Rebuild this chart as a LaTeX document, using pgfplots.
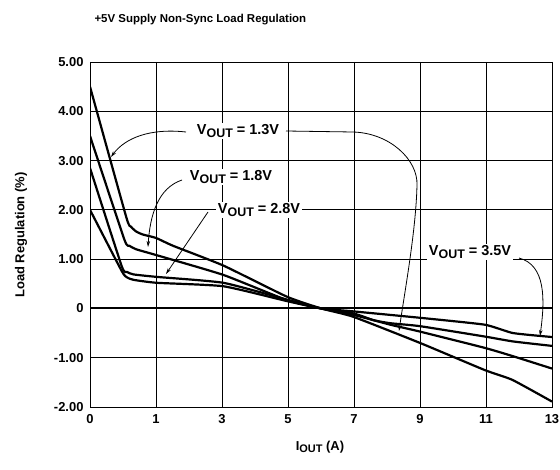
\documentclass[border=0pt]{standalone}
\usepackage{pgfplots}
\pgfplotsset{compat=1.18}
\usepackage{fontspec}
\setmainfont{Liberation Sans}
\usetikzlibrary{arrows.meta}
\newcommand\vout{V\raisebox{-0.35ex}{\fontsize{12.5}{14}\selectfont OUT}}
\begin{document}
\begin{tikzpicture}
\useasboundingbox (0,0) rectangle (560bp,470bp);
\begin{axis}[
  at={(90bp,63bp)}, anchor=south west,
  scale only axis, width=462bp, height=345bp,
  xmin=0,xmax=7,ymin=-2,ymax=5,
  xtick={0,...,7}, xticklabels={0,1,3,5,7,9,11,13},
  ytick={-2,...,5}, yticklabels={-2.00,-1.00,0,1.00,2.00,3.00,4.00,5.00},
  xmajorgrids, ymajorgrids,
  major grid style={black, line width=0.9bp},
  axis line style={black, line width=0.9bp},
  tick style={black, line width=0.9bp},
  tick align=inside,
  tick label style={font=\fontsize{13}{15}\selectfont\bfseries},
  xticklabel style={yshift=-4bp},
  yticklabel style={xshift=-3bp},
  curve/.style={black, line width=2.2bp, line join=round, mark=none, smooth, tension=0.3},
]
\draw[line width=2bp] (axis cs:0,0) -- (axis cs:7,0);
% VOUT = 1.3V
\addplot[curve] coordinates {(0,4.5)(0.55,1.85)(0.62,1.66)(0.70,1.56)(0.80,1.50)(1.0,1.43)(1.26,1.27)(2.02,0.87)(2.98,0.24)(3.5,0)(3.99,-0.17)(5,-0.70)(5.98,-1.25)(6.4,-1.45)(7,-1.89)};
% VOUT = 1.8V
\addplot[curve] coordinates {(0,3.5)(0.52,1.40)(0.60,1.27)(0.70,1.20)(1.01,1.08)(2.02,0.68)(2.98,0.17)(3.5,0)(3.99,-0.13)(4.55,-0.33)(5,-0.47)(5.98,-0.80)(6.41,-0.97)(7,-1.22)};
% VOUT = 2.8V
\addplot[curve] coordinates {(0,2.85)(0.48,0.86)(0.56,0.74)(0.66,0.69)(1.01,0.64)(2.02,0.52)(2.98,0.18)(3.5,0)(3.99,-0.10)(4.3,-0.24)(4.55,-0.30)(5,-0.36)(5.98,-0.57)(6.41,-0.67)(7,-0.76)};
% VOUT = 3.5V
\addplot[curve] coordinates {(0,2.0)(0.48,0.76)(0.56,0.63)(0.66,0.58)(1.01,0.52)(2.02,0.45)(2.98,0.15)(3.5,0)(3.99,-0.06)(5,-0.19)(5.98,-0.33)(6.41,-0.50)(7,-0.58)};
\end{axis}
\begin{scope}[x=1bp,y=1bp]
\node[anchor=base west, font=\fontsize{11.5}{13}\selectfont\bfseries] at (91,447.5) {+5V Supply Non-Sync Load Regulation};
\node[rotate=90, font=\fontsize{13}{15}\selectfont\bfseries] at (21,235) {Load Regulation (\%)};
\node[font=\fontsize{13}{15}\selectfont\bfseries] at (320,23) {I\raisebox{-0.35ex}{\fontsize{11}{12}\selectfont OUT} (A)};
\begin{scope}[line width=0.8bp, -{Stealth[length=6bp,width=3.5bp]}]
\draw (186,338) .. controls (150,342) and (125,332) .. (111,313);
\draw (286,339) -- (353,338) .. controls (390,337) and (418,310) .. (417,285) .. controls (416,240) and (405,180) .. (399,139);
\draw (182,290) .. controls (158,282) and (150,255) .. (148,223);
\draw (208,258) -- (166,196);
\draw (519,212) .. controls (546,205) and (545,170) .. (540,134);
\end{scope}
\begin{scope}[every node/.style={fill=white, inner sep=1.5bp, font=\fontsize{14.5}{16}\selectfont\bfseries}]
\node at (238,339) {\vout{} = 1.3V};
\node at (231,293) {\vout{} = 1.8V};
\node at (259,260) {\vout{} = 2.8V};
\node at (470,218) {\vout{} = 3.5V};
\end{scope}
\end{scope}
\end{tikzpicture}
\end{document}
